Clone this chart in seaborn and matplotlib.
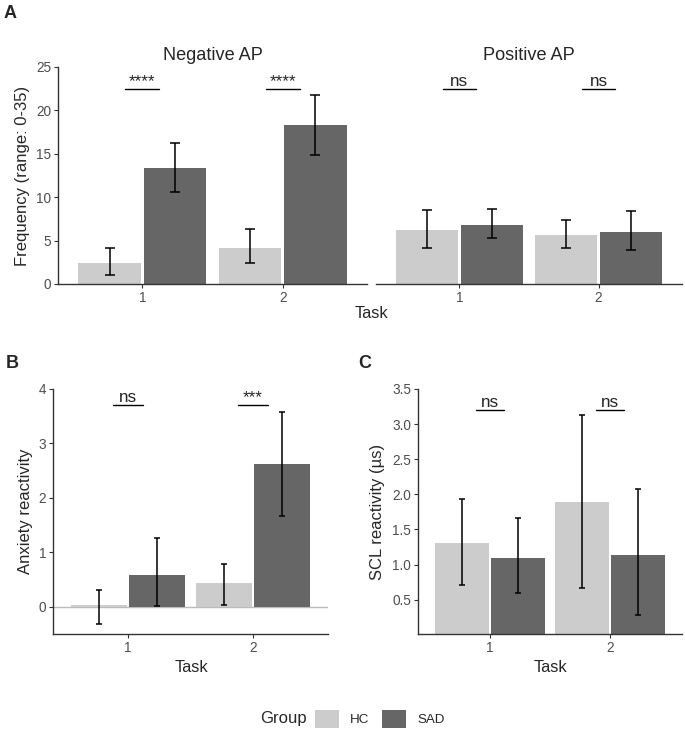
import numpy as np
import pandas as pd
import seaborn as sns
import matplotlib.pyplot as plt
from matplotlib.patches import Patch

# tasks and groups
tasks = ["1", "2"]
groups = ["HC", "SAD"]
colors = {"HC": "#CCCCCC", "SAD": "#666666"}

# panel A, negative AP frequency (mean, lower, upper)
neg_hc = [2.4, 4.2]
neg_hc_lo = [1.0, 2.4]
neg_hc_hi = [4.1, 6.3]
neg_sad = [13.4, 18.3]
neg_sad_lo = [10.6, 14.9]
neg_sad_hi = [16.3, 21.8]
neg_sig = ["****", "****"]

# panel A, positive AP frequency
pos_hc = [6.2, 5.7]
pos_hc_lo = [4.2, 4.1]
pos_hc_hi = [8.5, 7.4]
pos_sad = [6.8, 6.0]
pos_sad_lo = [5.3, 3.9]
pos_sad_hi = [8.6, 8.4]
pos_sig = ["ns", "ns"]

# panel B, anxiety reactivity
anx_hc = [0.03, 0.43]
anx_hc_lo = [-0.31, 0.03]
anx_hc_hi = [0.30, 0.79]
anx_sad = [0.59, 2.63]
anx_sad_lo = [0.02, 1.66]
anx_sad_hi = [1.26, 3.57]
anx_sig = ["ns", "***"]

# panel C, SCL reactivity
scl_hc = [1.31, 1.89]
scl_hc_lo = [0.71, 0.67]
scl_hc_hi = [1.94, 3.13]
scl_sad = [1.09, 1.13]
scl_sad_lo = [0.60, 0.28]
scl_sad_hi = [1.66, 2.08]
scl_sig = ["ns", "ns"]

sns.set_style("ticks")
plt.rcParams["font.family"] = ["Liberation Sans", "DejaVu Sans"]

W, H = 685, 734
fig = plt.figure(figsize=(W / 100, H / 100), dpi=100)


def add_ax(x0, y0, x1, y1):
    return fig.add_axes([x0 / W, 1 - y1 / H, (x1 - x0) / W, (y1 - y0) / H])


def draw_panel(ax, hc, hc_lo, hc_hi, sad, sad_lo, sad_hi, sig, sig_y, capsize):
    df = pd.DataFrame({
        "Task": tasks * 2,
        "Group": ["HC"] * len(tasks) + ["SAD"] * len(tasks),
        "value": hc + sad,
    })
    sns.barplot(data=df, x="Task", y="value", hue="Group", order=tasks,
                hue_order=groups, palette=colors, saturation=1, width=0.93,
                gap=0.045, errorbar=None, linewidth=0, legend=False, ax=ax)
    bounds = {"HC": (hc, hc_lo, hc_hi), "SAD": (sad, sad_lo, sad_hi)}
    for g, cont in zip(groups, ax.containers):
        m, lo, hi = (np.array(v) for v in bounds[g])
        xs = [b.get_x() + b.get_width() / 2 for b in cont]
        ax.errorbar(xs, m, yerr=[m - lo, hi - m], fmt="none", ecolor="black",
                    elinewidth=1.1, capsize=capsize, capthick=1.1, zorder=3)
    for i, lab in enumerate(sig):
        ax.plot([i - 0.12, i + 0.12], [sig_y, sig_y], color="black", lw=1)
        ax.annotate(lab, xy=(i, sig_y), xytext=(0, 2), textcoords="offset points",
                    ha="center", va="baseline", fontsize=12.3)
    ax.set_xlim(-0.6, 1.6)
    ax.set_xlabel("")
    ax.tick_params(colors="#333333", labelcolor="#4D4D4D", labelsize=9.8,
                   length=3, width=0.8, pad=2)
    for s in ["top", "right"]:
        ax.spines[s].set_visible(False)
    for s in ["left", "bottom"]:
        ax.spines[s].set_color("#333333")
        ax.spines[s].set_linewidth(1.0)


# panel A
axA1 = add_ax(58, 67, 367, 284)
draw_panel(axA1, neg_hc, neg_hc_lo, neg_hc_hi, neg_sad, neg_sad_lo, neg_sad_hi,
           neg_sig, 22.5, 3.6)
axA1.set_ylim(0, 25)
axA1.set_yticks(np.arange(0, 26, 5))
axA1.set_ylabel("Frequency (range: 0-35)", fontsize=12, labelpad=4)
axA1.set_title("Negative AP", fontsize=13.1, pad=5)

axA2 = add_ax(376, 67, 682, 284)
draw_panel(axA2, pos_hc, pos_hc_lo, pos_hc_hi, pos_sad, pos_sad_lo, pos_sad_hi,
           pos_sig, 22.5, 3.6)
axA2.set_ylim(0, 25)
axA2.set_ylabel("")
axA2.set_yticks([])
axA2.spines["left"].set_visible(False)
axA2.set_title("Positive AP", fontsize=13.1, pad=5)
fig.text(371 / W, 1 - 313 / H, "Task", ha="center", va="center", fontsize=11.8)

# panel B
axB = add_ax(53, 389, 328, 634)
axB.axhline(0, color="#BBBBBB", lw=1, zorder=0)
draw_panel(axB, anx_hc, anx_hc_lo, anx_hc_hi, anx_sad, anx_sad_lo, anx_sad_hi,
           anx_sig, 3.71, 2.2)
axB.set_ylim(-0.5, 4)
axB.set_yticks([0, 1, 2, 3, 4])
axB.set_ylabel("Anxiety reactivity", fontsize=12, labelpad=4)
fig.text(191 / W, 1 - 667 / H, "Task", ha="center", va="center", fontsize=11.8)

# panel C
axC = add_ax(418, 389, 682, 634)
draw_panel(axC, scl_hc, scl_hc_lo, scl_hc_hi, scl_sad, scl_sad_lo, scl_sad_hi,
           scl_sig, 3.2, 2.2)
axC.set_ylim(0.01, 3.5)
axC.set_yticks(np.arange(0.5, 3.51, 0.5))
axC.set_yticklabels([f"{v:.1f}" for v in np.arange(0.5, 3.51, 0.5)])
axC.set_ylabel("SCL reactivity (µs)", fontsize=12, labelpad=5)
fig.text(550 / W, 1 - 667 / H, "Task", ha="center", va="center", fontsize=11.8)

# panel letters
fig.text(4 / W, 1 - 13 / H, "A", fontsize=13, weight="bold", va="center")
fig.text(6 / W, 1 - 364 / H, "B", fontsize=13, weight="bold", va="center")
fig.text(358 / W, 1 - 364 / H, "C", fontsize=13, weight="bold", va="center")

# legend
fig.text(283 / W, 1 - 719 / H, "Group", ha="center", va="center", fontsize=12)
handles = [Patch(facecolor=colors[g], edgecolor="none", label=g) for g in groups]
fig.legend(handles=handles, loc="center left", bbox_to_anchor=(315 / W, 1 - 719 / H),
           ncol=2, frameon=False, fontsize=9.6, handlelength=1.8, handleheight=1.75,
           handletextpad=0.85, columnspacing=0.9, borderpad=0, borderaxespad=0)

fig.savefig("out.png", dpi=100)
